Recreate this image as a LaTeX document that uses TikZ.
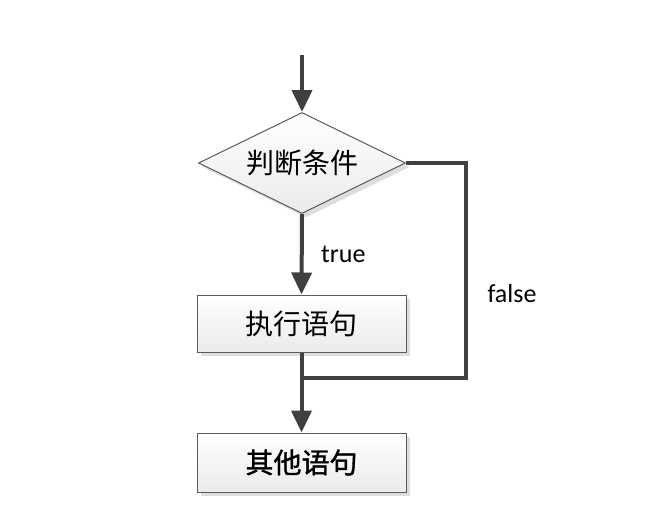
\documentclass[tikz,border=0pt]{standalone}
\usepackage{fontspec}
\setmainfont{Carlito}
\newfontfamily\cjk{Noto Sans CJK SC}
\newfontfamily\cjkheavy[FakeBold=1.2]{Noto Sans CJK SC}
\usetikzlibrary{shapes.geometric,arrows.meta,shadows}

\definecolor{linegray}{HTML}{404040}
\definecolor{framegray}{HTML}{5A5A5A}

\begin{document}
\begin{tikzpicture}
		[x=1pt, y=-1pt,
		flow/.style={draw=linegray,line width=4pt,-{Triangle[width=20pt,length=22pt]}},
        link/.style={draw=linegray,line width=4pt,line join=miter},
        block/.style={draw=framegray,line width=1pt,top color=white,bottom color=black!8,
          drop shadow={shadow xshift=4pt,shadow yshift=-4pt,fill=black!13,opacity=1},
          font=\cjk\fontsize{28}{30}\selectfont,inner sep=0pt},
        choice/.style={block,diamond,aspect=2,minimum width=207pt,minimum height=101pt},
        stmt/.style={block,rectangle,minimum width=209pt,minimum height=57pt},
        tag/.style={font=\fontsize{26}{28}\selectfont}
        ]
        \useasboundingbox (0,0) rectangle (655,527);

        % nodes
        \coordinate (start) at (302,55);
        \node[choice] (cond) at (302,163) {判断条件};
        \node[stmt] (body) at (301.5,323.5) {执行语句};
        \node[stmt,minimum height=59pt,font=\cjkheavy\fontsize{28}{30}\selectfont] (next) at (301.5,462.5) {其他语句};
        \coordinate (corner) at (466,378);
        \coordinate (join) at (300,378);

        % connectors
        \draw[flow] (start) -- (cond.north);
        \draw[flow] (cond.south) -- (body.north) node[tag,pos=0.5,right,xshift=14pt] (yes) {true};
        \draw[flow] (body.south) -- (next.north);
        \draw[link] (cond.east) -| (corner) -- (join);
        \node[tag] (no) at (512,294) {false};
\end{tikzpicture}
\end{document}
